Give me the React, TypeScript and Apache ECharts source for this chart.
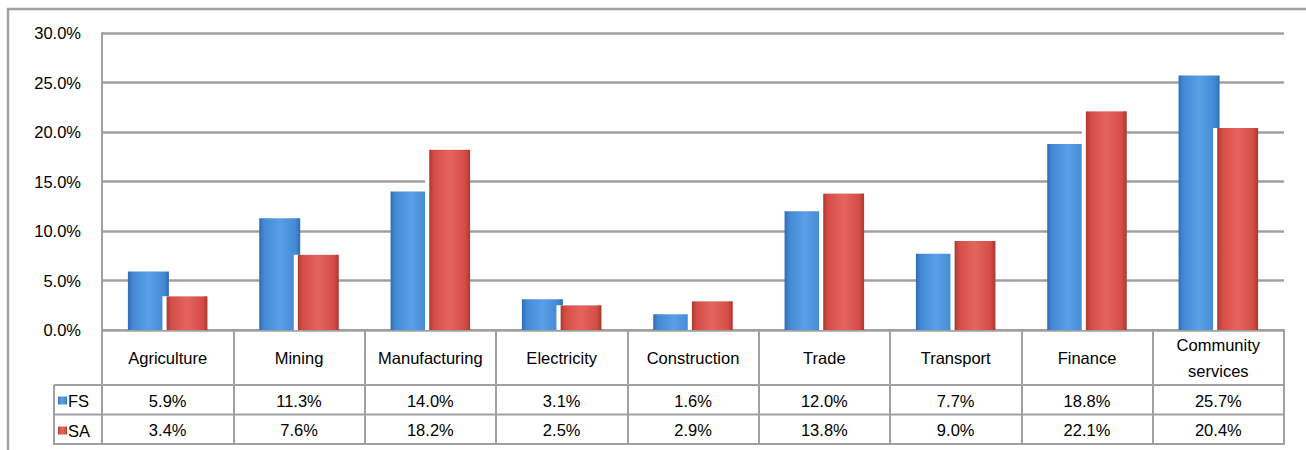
import React, { useEffect, useRef } from "react";
import * as echarts from "echarts";

const categories = [
  "Agriculture",
  "Mining",
  "Manufacturing",
  "Electricity",
  "Construction",
  "Trade",
  "Transport",
  "Finance",
  "Community\nservices",
];
const seriesNames = ["FS", "SA"];
const fsValues = [5.9, 11.3, 14.0, 3.1, 1.6, 12.0, 7.7, 18.8, 25.7];
const saValues = [3.4, 7.6, 18.2, 2.5, 2.9, 13.8, 9.0, 22.1, 20.4];
const yTicks = { min: 0, max: 30, interval: 5 };

const FONT = 'Arial, "Liberation Sans", sans-serif';
const FS = 16.5;
const GRID_COLOR = "#a0a0a0";

const fmt = (v: number) => v.toFixed(1) + "%";

function barGradient(edge: string, mid: string, center: string) {
  return new echarts.graphic.LinearGradient(0, 0, 1, 0, [
    { offset: 0, color: edge },
    { offset: 0.12, color: mid },
    { offset: 0.5, color: center },
    { offset: 0.88, color: mid },
    { offset: 1, color: edge },
  ]);
}

export default function App() {
  const ref = useRef<HTMLDivElement>(null);

  useEffect(() => {
    if (!ref.current) return;
    const chart = echarts.init(ref.current, null, { renderer: "svg" });

    const gridLeft = 102;
    const gridRight = 22;
    const gridTop = 33;
    const gridBottom = 120;
    const W = 1306;
    const plotRight = W - gridRight;
    const axisY = 450 - gridBottom;
    const rowTop1 = 385;
    const rowTop2 = 414.5;
    const rowBottom = 444;
    const tableLeft = 54;

    const labelAxisBase = {
      type: "category" as const,
      position: "bottom" as const,
      axisLine: { show: false },
      axisTick: { show: false },
      splitLine: { show: false },
    };

    const option: any = {
      animation: false,
      backgroundColor: "#ffffff",
      textStyle: { fontFamily: FONT },
      grid: {
        left: gridLeft,
        right: gridRight,
        top: gridTop,
        bottom: gridBottom,
        containLabel: false,
      },
      legend: {
        data: seriesNames,
        orient: "vertical",
        left: 58,
        top: 392,
        padding: 0,
        itemWidth: 9,
        itemHeight: 8,
        itemGap: 13,
        icon: "rect",
        textStyle: {
          fontSize: FS,
          color: "#000",
          fontFamily: FONT,
          lineHeight: 16,
          padding: [0, 0, 0, -4],
        },
      },
      xAxis: [
        {
          type: "category",
          data: categories,
          position: "bottom",
          axisLine: { show: true, lineStyle: { color: GRID_COLOR, width: 2 } },
          axisTick: {
            show: true,
            interval: 0,
            length: rowBottom - axisY,
            lineStyle: { color: GRID_COLOR, width: 2 },
          },
          axisLabel: {
            interval: 0,
            margin: 28,
            verticalAlign: "middle",
            fontSize: FS,
            lineHeight: 26,
            color: "#000",
            fontFamily: FONT,
          },
          splitLine: { show: false },
        },
        {
          ...labelAxisBase,
          data: fsValues.map(fmt),
          axisLabel: {
            interval: 0,
            margin: 71,
            verticalAlign: "middle",
            fontSize: FS,
            color: "#000",
            fontFamily: FONT,
          },
        },
        {
          ...labelAxisBase,
          data: saValues.map(fmt),
          axisLabel: {
            interval: 0,
            margin: 100,
            verticalAlign: "middle",
            fontSize: FS,
            color: "#000",
            fontFamily: FONT,
          },
        },
      ],
      yAxis: {
        type: "value",
        min: yTicks.min,
        max: yTicks.max,
        interval: yTicks.interval,
        axisLine: { show: true, lineStyle: { color: GRID_COLOR, width: 2 } },
        axisTick: { show: false },
        axisLabel: {
          formatter: (v: number) => fmt(v),
          fontSize: FS,
          color: "#000",
          margin: 21,
          fontFamily: FONT,
        },
        splitLine: { show: true, lineStyle: { color: GRID_COLOR, width: 2.5 } },
      },
      series: [
        {
          name: seriesNames[0],
          type: "bar",
          data: fsValues,
          barWidth: 41,
          barGap: "-6%",
          itemStyle: {
            color: barGradient("#2f6db5", "#438ad6", "#5aa0e6"),
          },
        },
        {
          name: seriesNames[1],
          type: "bar",
          data: saValues,
          barWidth: 41,
          barGap: "-6%",
          itemStyle: {
            color: barGradient("#ad3731", "#d44d46", "#e4655d"),
            shadowColor: "#ffffff",
            shadowBlur: 0,
            shadowOffsetX: -4,
            shadowOffsetY: 0,
          },
        },
      ],
      graphic: [
        {
          type: "rect",
          silent: true,
          shape: { x: 8, y: 9, width: 1330, height: 470 },
          style: { fill: "none", stroke: GRID_COLOR, lineWidth: 2.5 },
          z: 100,
        },
        {
          type: "line",
          silent: true,
          shape: { x1: tableLeft, y1: rowTop1, x2: plotRight + 1, y2: rowTop1 },
          style: { stroke: GRID_COLOR, lineWidth: 2 },
        },
        {
          type: "line",
          silent: true,
          shape: { x1: tableLeft, y1: rowTop2, x2: plotRight + 1, y2: rowTop2 },
          style: { stroke: GRID_COLOR, lineWidth: 2 },
        },
        {
          type: "line",
          silent: true,
          shape: { x1: tableLeft, y1: rowBottom, x2: plotRight + 1, y2: rowBottom },
          style: { stroke: GRID_COLOR, lineWidth: 2 },
        },
        {
          type: "line",
          silent: true,
          shape: { x1: tableLeft, y1: rowTop1, x2: tableLeft, y2: rowBottom + 1 },
          style: { stroke: GRID_COLOR, lineWidth: 2 },
        },
      ],
    };

    chart.setOption(option);
    return () => chart.dispose();
  }, []);

  return (
    <div
      ref={ref}
      style={{ position: "fixed", left: 0, top: 0, width: 1306, height: 450 }}
    />
  );
}
